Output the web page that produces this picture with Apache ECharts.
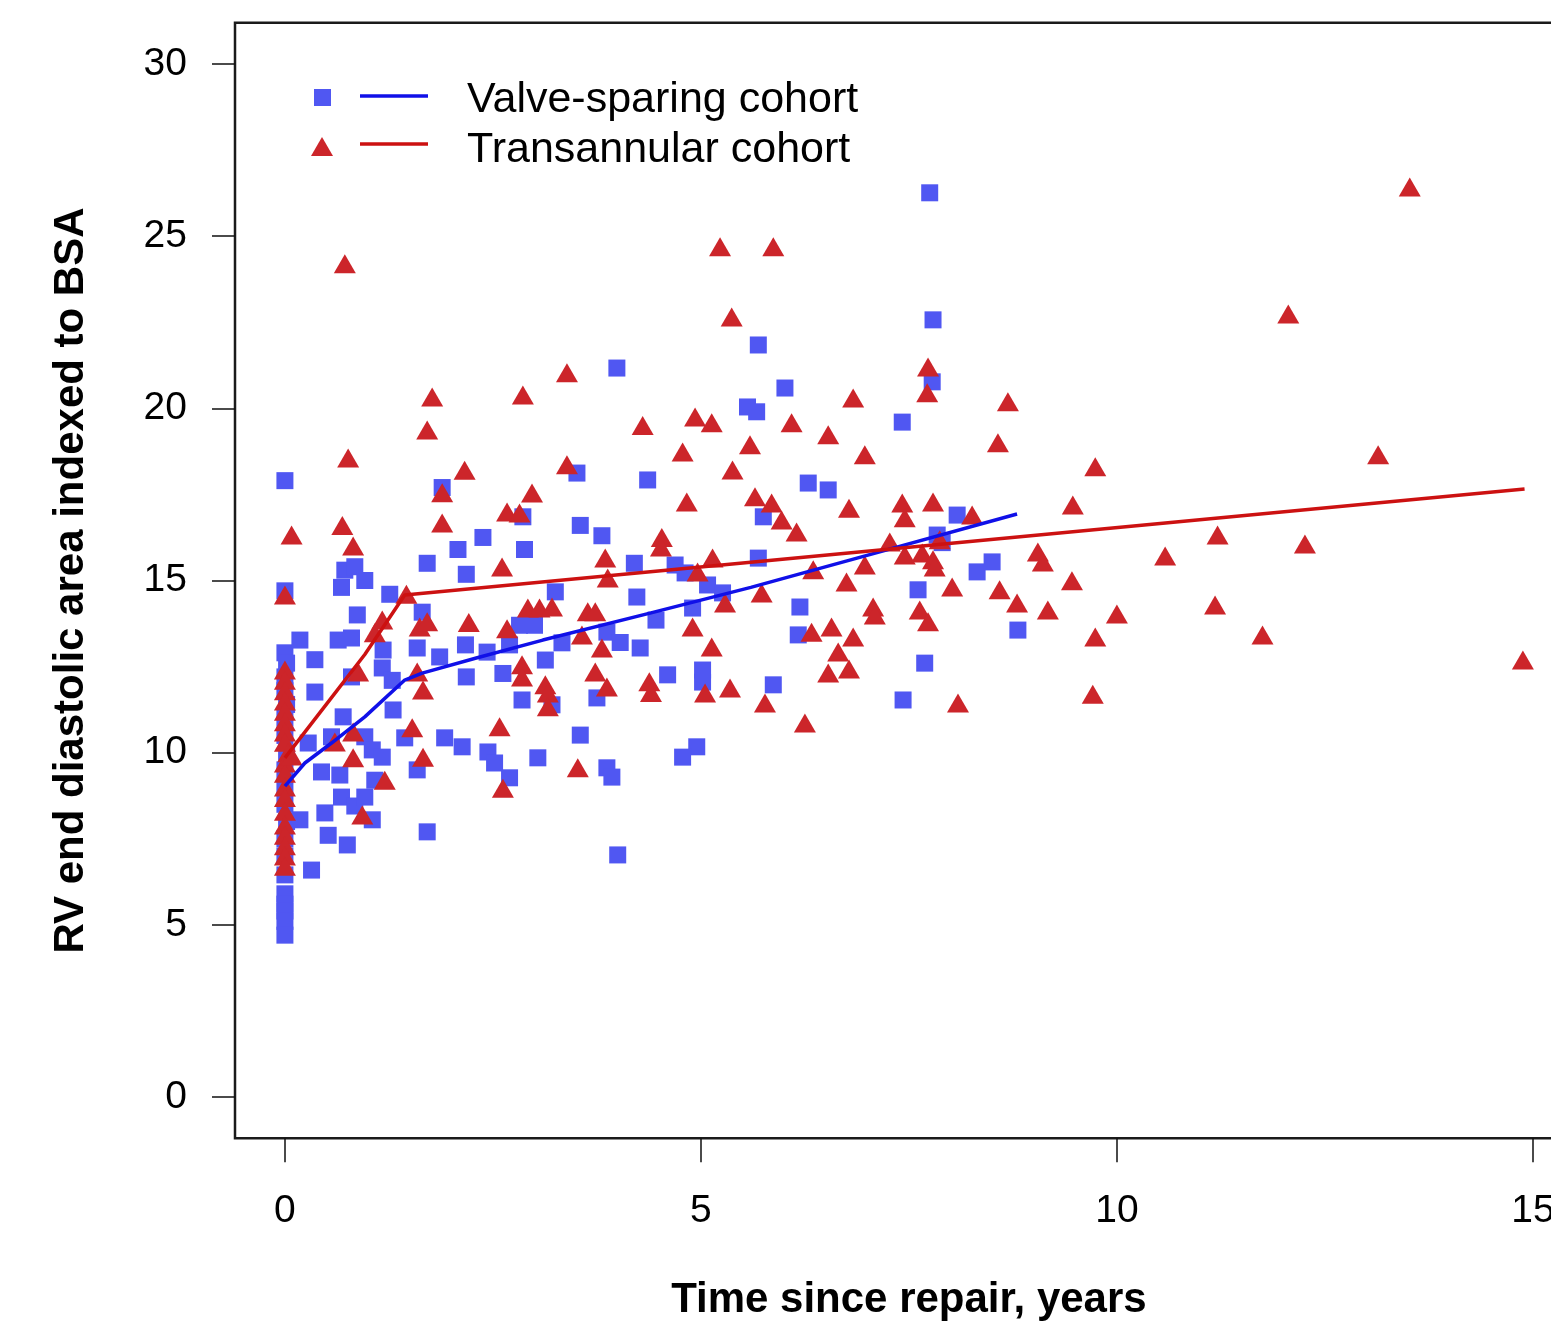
<!DOCTYPE html>
<html>
<head>
<meta charset="utf-8">
<script src="https://cdn.jsdelivr.net/npm/echarts@6/dist/echarts.min.js"></script>
<style>
  html, body { margin: 0; padding: 0; background: #fff; overflow: hidden; }
  #chart { width: 1600px; height: 1321px; }
</style>
</head>
<body>
<div id="chart"></div>
<script>
// tick labels
var xTicks = [0, 5, 10, 15];
var yTicks = [0, 5, 10, 15, 20, 25, 30];

// valve-sparing cohort: [years, RV EDA index]
var valveSparing = [
    [0, 17.9], [0, 14.7], [0, 12.9], [0.02, 12.6], [0, 12.2], [0, 11.8], [0.02, 11.4], [0, 11.0],
    [0, 10.5], [0.02, 10.0], [0, 9.5], [0, 9.0], [0, 8.5], [0.02, 8.0], [0, 7.5], [0, 7.0],
    [0, 6.45], [0, 5.9], [0, 5.6], [0, 5.4], [0, 5.1], [0, 4.7],
    [0.18, 13.27], [0.36, 12.7], [0.36, 11.76], [0.28, 10.28], [0.44, 9.44], [0.48, 8.25],
    [0.52, 7.6], [0.32, 6.59], [0.18, 8.05],
    [0.64, 13.27], [0.8, 13.33], [0.8, 12.2], [0.7, 11.04], [0.56, 10.46], [0.66, 9.35],
    [0.68, 8.71], [0.75, 7.32], [0.84, 8.45],
    [0.72, 15.3], [0.84, 15.4], [0.68, 14.8], [0.96, 15.0], [0.87, 14.0], [1.26, 14.6],
    [1.18, 12.98], [1.17, 12.46], [1.29, 12.1], [1.3, 11.24], [0.96, 10.46], [1.05, 10.08],
    [1.17, 9.87], [1.08, 9.2], [0.96, 8.71], [1.05, 8.05],
    [1.44, 10.43], [1.59, 13.04], [1.65, 14.08], [1.59, 9.5], [1.71, 7.7], [1.71, 15.5],
    [1.86, 12.78], [1.92, 10.43], [1.89, 17.7],
    [2.08, 15.9], [2.18, 15.18], [2.17, 13.13], [2.18, 12.2], [2.13, 10.17],
    [2.38, 16.25], [2.43, 12.92], [2.44, 10.02], [2.52, 9.7], [2.62, 12.3], [2.7, 13.13],
    [2.7, 9.27], [2.82, 13.7], [2.86, 16.85], [2.88, 15.9], [2.85, 11.53], [3.0, 13.7],
    [3.04, 9.85], [3.13, 12.69], [3.21, 11.39], [3.25, 14.67], [3.33, 13.19], [3.51, 18.12],
    [3.55, 16.6], [3.55, 10.51], [3.75, 11.59], [3.81, 16.3], [3.87, 13.5], [3.87, 9.56],
    [3.93, 9.29], [3.99, 21.17], [4.0, 7.03], [4.03, 13.2], [4.2, 15.5], [4.23, 14.52],
    [4.27, 13.04], [4.36, 17.92], [4.46, 13.85],
    [4.69, 15.45], [4.81, 15.22], [4.9, 14.2], [5.08, 14.87], [5.26, 14.64], [5.69, 15.65],
    [5.75, 16.85], [5.56, 20.04], [5.67, 19.9], [5.69, 21.84], [6.01, 20.59], [6.29, 17.83],
    [6.53, 17.63], [6.19, 14.23], [6.17, 13.42], [4.6, 12.26], [5.02, 12.4], [5.02, 12.05],
    [5.87, 11.97], [4.95, 10.17], [4.78, 9.87],
    [7.75, 26.26], [7.79, 22.57], [7.78, 20.77], [7.42, 19.6], [8.08, 16.9], [7.84, 16.32],
    [7.9, 16.1], [8.32, 15.25], [8.5, 15.54], [7.61, 14.73], [8.81, 13.56], [7.69, 12.6],
    [7.43, 11.53]
];

// transannular cohort
var transannular = [
    [0, 14.58], [0.08, 16.32], [0, 12.4], [0, 12.1], [0, 11.8], [0, 11.5], [0, 11.2], [0, 10.9],
    [0, 10.6], [0, 10.3], [0.04, 10.0], [0, 9.7], [0, 9.4], [0, 9.0], [0, 8.7], [0, 8.3],
    [0, 7.9], [0, 7.6], [0, 7.3], [0, 7.0], [0, 6.7], [0.08, 9.9],
    [0.72, 24.2], [0.76, 18.56], [0.69, 16.6], [0.82, 16.0], [0.88, 12.34], [0.82, 10.6],
    [0.6, 10.31], [0.82, 9.85], [0.93, 8.19], [1.2, 9.2], [1.08, 13.48], [1.17, 13.85],
    [1.46, 14.6], [1.62, 13.65], [1.71, 13.8], [1.59, 12.34], [1.66, 11.82], [1.53, 10.72],
    [1.66, 9.87], [1.77, 20.33], [1.71, 19.37], [1.89, 17.55], [1.89, 16.67], [2.16, 18.2],
    [2.21, 13.78], [2.58, 10.75], [2.62, 8.97], [2.61, 15.39], [2.67, 16.99], [2.82, 16.96],
    [2.86, 20.39], [2.67, 13.6], [2.85, 12.55], [2.85, 12.2], [2.92, 14.2], [2.97, 17.54],
    [3.06, 14.2], [3.13, 11.97], [3.16, 11.73], [3.16, 11.33], [3.21, 14.23], [3.39, 21.03],
    [3.39, 18.36], [3.52, 9.56], [3.57, 13.42], [3.64, 14.09], [3.73, 14.09], [3.73, 12.34],
    [3.81, 13.04], [3.85, 15.65], [3.88, 15.07], [3.87, 11.91], [4.3, 19.5], [4.38, 12.06],
    [4.4, 11.75], [4.53, 16.25], [4.52, 15.97],
    [4.78, 18.73], [4.83, 17.28], [4.93, 19.75], [4.9, 13.65], [4.96, 15.25], [5.05, 11.73],
    [5.13, 19.58], [5.13, 13.07], [5.14, 15.65], [5.23, 24.69], [5.29, 14.35], [5.35, 11.88],
    [5.37, 22.65], [5.38, 18.21], [5.59, 18.94], [5.65, 17.43], [5.73, 14.64], [5.77, 11.44],
    [5.85, 17.25], [5.87, 24.69], [5.97, 16.76], [6.09, 19.58], [6.15, 16.41], [6.25, 10.86],
    [6.35, 15.31], [6.33, 13.5], [6.53, 19.23], [6.53, 12.31], [6.57, 13.65], [6.65, 12.92],
    [6.75, 14.96], [6.78, 17.1], [6.83, 20.3], [6.97, 18.65], [6.83, 13.36], [6.78, 12.43],
    [6.97, 15.45], [7.07, 14.23], [7.09, 14.0], [7.27, 16.12], [7.42, 17.25], [7.45, 16.82],
    [7.45, 15.74], [7.63, 14.14], [7.66, 15.8], [7.73, 13.8], [7.72, 20.45], [7.73, 21.2],
    [7.79, 17.28], [7.79, 15.6], [7.81, 15.39], [7.87, 16.18], [8.02, 14.81], [8.09, 11.44],
    [8.26, 16.9], [8.57, 19.0], [8.59, 14.73], [8.69, 20.19], [8.8, 14.35], [9.05, 15.83],
    [9.11, 15.54], [9.17, 14.14], [9.46, 14.99], [9.47, 17.19], [9.74, 18.3], [9.74, 13.36],
    [9.71, 11.7], [10.0, 14.03], [10.58, 15.71], [11.18, 14.29], [11.21, 16.32], [11.75, 13.42],
    [12.06, 22.74], [12.26, 16.06], [13.14, 18.65], [13.52, 26.43], [14.88, 12.69]
];

// fitted trend lines
var valveFit = [
    [0, 9.03], [0.24, 9.7], [0.56, 10.28], [0.96, 11.04], [1.44, 12.11], [1.65, 12.31],
    [2.3, 12.75], [3.1, 13.27], [4.4, 14.06], [5.6, 14.8], [6.8, 15.6], [8.8, 16.93]
];
var transFit = [
    [0, 9.85], [0.56, 11.6], [0.96, 12.85], [1.44, 14.58], [14.9, 17.66]
];

var blueMark = '#5057f2';
var redMark = '#cc252a';
var blueLine = '#1010e8';
var redLine = '#cc1111';
var font = "'Liberation Sans', Arial, sans-serif";

var chart = echarts.init(document.getElementById('chart'));

chart.setOption({
    animation: false,
    backgroundColor: '#fff',
    grid: {
        left: 235,
        top: 22.7,
        width: 1347.8,
        height: 1115.6,
        outerBoundsMode: 'none',
        containLabel: false,
        show: true,
        borderColor: '#1a1a1a',
        borderWidth: 2.5,
        backgroundColor: 'transparent'
    },
    xAxis: {
        type: 'value',
        min: -0.6,
        max: 15.6,
        splitLine: {show: false},
        axisLine: {show: false, onZero: false},
        axisTick: {
            show: true,
            length: 24,
            customValues: xTicks,
            lineStyle: {color: '#111', width: 1.5}
        },
        axisLabel: {
            customValues: xTicks,
            margin: 53,
            color: '#000',
            fontSize: 39,
            fontFamily: font
        },
        name: 'Time since repair, years',
        nameLocation: 'middle',
        nameGap: 141,
        nameTextStyle: {
            color: '#000',
            fontSize: 42,
            fontWeight: 'bold',
            fontFamily: font
        }
    },
    yAxis: {
        type: 'value',
        min: -1.2,
        max: 31.2,
        splitLine: {show: false},
        axisLine: {show: false, onZero: false},
        axisTick: {
            show: true,
            length: 23,
            customValues: yTicks,
            lineStyle: {color: '#111', width: 1.5}
        },
        axisLabel: {
            customValues: yTicks,
            margin: 48,
            color: '#000',
            fontSize: 39,
            fontFamily: font
        },
        name: 'RV end diastolic area indexed to BSA',
        nameLocation: 'middle',
        nameGap: 143,
        nameTextStyle: {
            color: '#000',
            fontSize: 42,
            fontWeight: 'bold',
            fontFamily: font
        }
    },
    series: [
        {
            name: 'Valve-sparing cohort',
            type: 'scatter',
            symbol: 'rect',
            symbolSize: 17,
            itemStyle: {color: blueMark, opacity: 1},
            data: valveSparing
        },
        {
            name: 'Transannular cohort',
            type: 'scatter',
            symbol: 'triangle',
            symbolSize: [22, 19],
            itemStyle: {color: redMark, opacity: 1},
            data: transannular
        },
        {
            name: 'Valve-sparing fit',
            type: 'line',
            showSymbol: false,
            lineStyle: {color: blueLine, width: 3.5},
            data: valveFit
        },
        {
            name: 'Transannular fit',
            type: 'line',
            showSymbol: false,
            lineStyle: {color: redLine, width: 3.5},
            data: transFit
        }
    ],
    // legend drawn by hand, R style
    graphic: [
        {type: 'rect', shape: {x: 314, y: 89, width: 17, height: 17}, style: {fill: blueMark}},
        {type: 'line', shape: {x1: 360, y1: 96, x2: 428, y2: 96}, style: {stroke: blueLine, lineWidth: 3.5}},
        {type: 'text', x: 467, y: 100, style: {text: 'Valve-sparing cohort', font: '43px ' + font, fill: '#000', verticalAlign: 'middle'}},
        {type: 'polygon', shape: {points: [[322, 137], [333, 156], [311, 156]]}, style: {fill: redMark}},
        {type: 'line', shape: {x1: 360, y1: 144, x2: 428, y2: 144}, style: {stroke: redLine, lineWidth: 3.5}},
        {type: 'text', x: 467, y: 150, style: {text: 'Transannular cohort', font: '43px ' + font, fill: '#000', verticalAlign: 'middle'}}
    ]
});
</script>
</body>
</html>
